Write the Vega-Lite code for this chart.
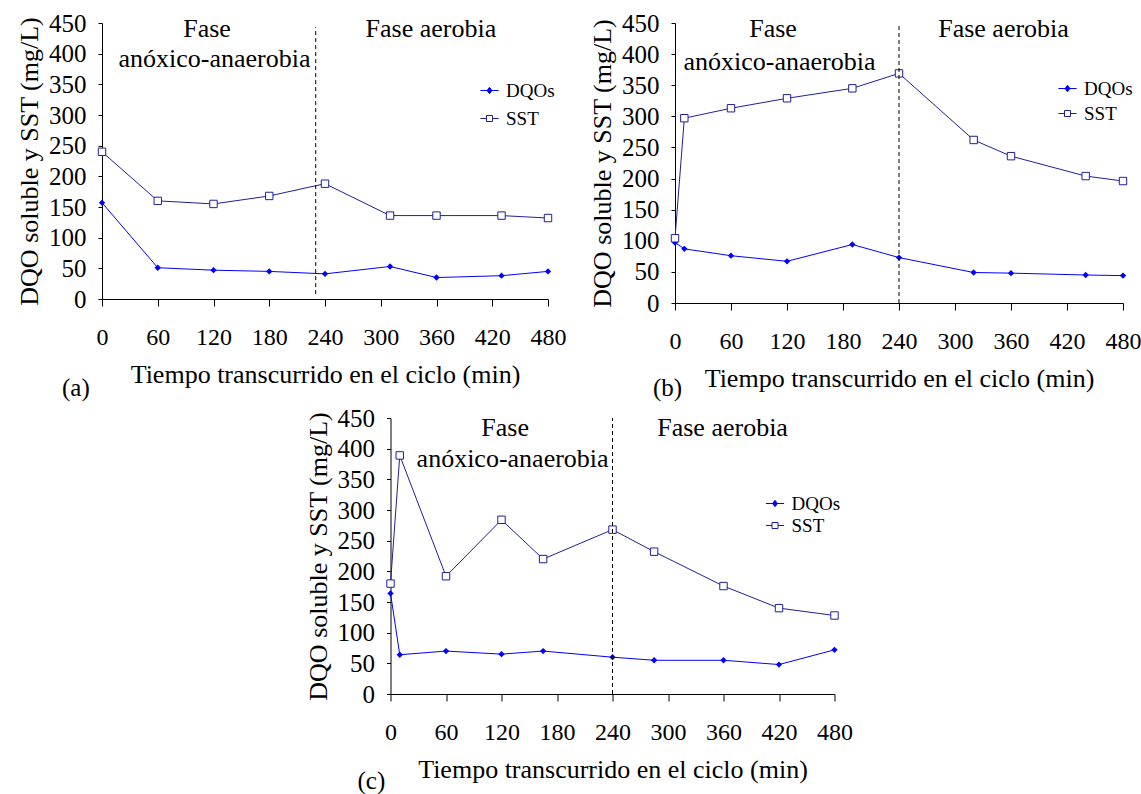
{
  "$schema": "https://vega.github.io/schema/vega-lite/v6.json",
  "padding": {"left": 16, "top": 11, "right": 0, "bottom": 0},
  "background": "white",
  "config": {
    "view": {"stroke": null},
    "font": "Liberation Serif",
    "axis": {"domainColor": "black", "tickColor": "black", "labelColor": "black", "titleColor": "black", "grid": false, "labelFont": "Liberation Serif", "titleFont": "Liberation Serif", "titleFontWeight": "normal", "domainWidth": 1, "tickWidth": 1, "labelOverlap": false},
    "axisX": {"tickSize": 7, "labelFontSize": 24, "labelPadding": 19, "titleFontSize": 26, "titlePadding": 12, "labelFlush": false, "labelOverlap": false},
    "axisY": {"tickSize": 4, "labelFontSize": 25, "labelPadding": 12, "titleFontSize": 26, "titlePadding": 6, "labelOverlap": false},
    "legend": {"labelFont": "Liberation Serif", "labelFontSize": 19, "labelColor": "black", "symbolSize": 196, "symbolStrokeWidth": 1, "labelOffset": 7, "title": null},
    "title": {"font": "Liberation Serif", "fontSize": 25, "fontWeight": "normal", "color": "black"},
    "text": {"font": "Liberation Serif", "fontSize": 26, "color": "black"}
  },
  "datasets": {
    "a": [
      {"t": 0, "v": 157, "serie": "DQOs"}, {"t": 60, "v": 51, "serie": "DQOs"}, {"t": 120, "v": 47, "serie": "DQOs"}, {"t": 180, "v": 45, "serie": "DQOs"}, {"t": 240, "v": 41, "serie": "DQOs"}, {"t": 310, "v": 53, "serie": "DQOs"}, {"t": 360, "v": 35, "serie": "DQOs"}, {"t": 430, "v": 38, "serie": "DQOs"}, {"t": 480, "v": 45, "serie": "DQOs"},
      {"t": 0, "v": 240, "serie": "SST"}, {"t": 60, "v": 160, "serie": "SST"}, {"t": 120, "v": 155, "serie": "SST"}, {"t": 180, "v": 168, "serie": "SST"}, {"t": 240, "v": 188, "serie": "SST"}, {"t": 310, "v": 136, "serie": "SST"}, {"t": 360, "v": 136, "serie": "SST"}, {"t": 430, "v": 136, "serie": "SST"}, {"t": 480, "v": 132, "serie": "SST"}
    ],
    "b": [
      {"t": 0, "v": 97, "serie": "DQOs"}, {"t": 10, "v": 87, "serie": "DQOs"}, {"t": 60, "v": 76, "serie": "DQOs"}, {"t": 120, "v": 67, "serie": "DQOs"}, {"t": 190, "v": 94, "serie": "DQOs"}, {"t": 240, "v": 73, "serie": "DQOs"}, {"t": 320, "v": 49, "serie": "DQOs"}, {"t": 360, "v": 48, "serie": "DQOs"}, {"t": 440, "v": 45, "serie": "DQOs"}, {"t": 480, "v": 44, "serie": "DQOs"},
      {"t": 0, "v": 104, "serie": "SST"}, {"t": 10, "v": 297, "serie": "SST"}, {"t": 60, "v": 313, "serie": "SST"}, {"t": 120, "v": 329, "serie": "SST"}, {"t": 190, "v": 345, "serie": "SST"}, {"t": 240, "v": 369, "serie": "SST"}, {"t": 320, "v": 262, "serie": "SST"}, {"t": 360, "v": 236, "serie": "SST"}, {"t": 440, "v": 204, "serie": "SST"}, {"t": 480, "v": 196, "serie": "SST"}
    ],
    "c": [
      {"t": 0, "v": 164, "serie": "DQOs"}, {"t": 10, "v": 64, "serie": "DQOs"}, {"t": 60, "v": 70, "serie": "DQOs"}, {"t": 120, "v": 65, "serie": "DQOs"}, {"t": 165, "v": 70, "serie": "DQOs"}, {"t": 240, "v": 60, "serie": "DQOs"}, {"t": 285, "v": 55, "serie": "DQOs"}, {"t": 360, "v": 55, "serie": "DQOs"}, {"t": 420, "v": 48, "serie": "DQOs"}, {"t": 480, "v": 72, "serie": "DQOs"},
      {"t": 0, "v": 180, "serie": "SST"}, {"t": 10, "v": 389, "serie": "SST"}, {"t": 60, "v": 192, "serie": "SST"}, {"t": 120, "v": 284, "serie": "SST"}, {"t": 165, "v": 220, "serie": "SST"}, {"t": 240, "v": 268, "serie": "SST"}, {"t": 285, "v": 232, "serie": "SST"}, {"t": 360, "v": 176, "serie": "SST"}, {"t": 420, "v": 140, "serie": "SST"}, {"t": 480, "v": 128, "serie": "SST"}
    ],
    "a_rule": [{"t": 230, "lo": 8, "hi": 443}],
    "b_rule": [{"t": 240, "lo": 0, "hi": 445}],
    "c_rule": [{"t": 240, "lo": 0, "hi": 450}],
    "a_txt": [{"t": 113, "v": 427, "label": "Fase"}, {"t": 121, "v": 378, "label": "anóxico-anaerobia"}, {"t": 354, "v": 427, "label": "Fase aerobia"}],
    "b_txt": [{"t": 105, "v": 427, "label": "Fase"}, {"t": 112, "v": 374, "label": "anóxico-anaerobia"}, {"t": 352, "v": 427, "label": "Fase aerobia"}],
    "c_txt": [{"t": 124, "v": 420, "label": "Fase"}, {"t": 132, "v": 370, "label": "anóxico-anaerobia"}, {"t": 359, "v": 420, "label": "Fase aerobia"}]
  },
  "vconcat": [
    {
      "hconcat": [
        {
          "width": 446, "height": 276,
          "title": {"text": "(a)", "orient": "bottom", "anchor": "start", "frame": "group", "dx": -40, "offset": -11},
          "layer": [
            {"data": {"name": "a"}, "mark": {"type": "line", "strokeWidth": 1},
             "encoding": {
               "x": {"field": "t", "type": "quantitative", "scale": {"domain": [0, 480], "nice": false}, "axis": {"values": [0, 60, 120, 180, 240, 300, 360, 420, 480], "title": "Tiempo transcurrido en el ciclo (min)", "labelOverlap": false}},
               "y": {"field": "v", "type": "quantitative", "scale": {"domain": [0, 450], "nice": false}, "axis": {"values": [0, 50, 100, 150, 200, 250, 300, 350, 400, 450], "tickCount": 10, "labelOverlap": false, "labelSeparation": 0, "labelBound": false, "title": "DQO soluble y SST (mg/L)"}},
               "color": {"field": "serie", "type": "nominal", "scale": {"domain": ["DQOs", "SST"], "range": ["#0000FF", "#1F1F9A"]},
                 "legend": {"orient": "none", "legendX": 378, "legendY": 58, "rowPadding": 8,
                   "encode": {"symbols": {"update": {
                     "shape": {"signal": "datum.value == 'DQOs' ? 'M-1.3,0H1.3M0,-0.45L0.35,0L0,0.45L-0.35,0Z' : 'M-1.3,0H-0.43M0.43,0H1.3M-0.43,-0.43H0.43V0.43H-0.43Z'"},
                     "fill": {"signal": "datum.value == 'DQOs' ? '#0000FF' : 'white'"},
                     "stroke": {"signal": "datum.value == 'DQOs' ? '#0000FF' : '#1F1F9A'"},
                     "strokeWidth": {"value": 1}, "opacity": {"value": 1}}}}}}
             }},
            {"data": {"name": "a"}, "transform": [{"filter": "datum.serie == 'DQOs'"}], "mark": {"type": "point", "shape": "diamond", "filled": true, "color": "#0000FF", "opacity": 1, "size": 40},
             "encoding": {"x": {"field": "t", "type": "quantitative"}, "y": {"field": "v", "type": "quantitative"}}},
            {"data": {"name": "a"}, "transform": [{"filter": "datum.serie == 'SST'"}], "mark": {"type": "point", "shape": "square", "filled": false, "stroke": "#1F1F9A", "fill": "white", "opacity": 1, "strokeWidth": 1, "size": 55},
             "encoding": {"x": {"field": "t", "type": "quantitative"}, "y": {"field": "v", "type": "quantitative"}}},
            {"data": {"name": "a_rule"}, "mark": {"type": "rule", "color": "black", "strokeDash": [4, 3], "strokeWidth": 1},
             "encoding": {"x": {"field": "t", "type": "quantitative"}, "y": {"field": "lo", "type": "quantitative"}, "y2": {"field": "hi"}}},
            {"data": {"name": "a_txt"}, "mark": {"type": "text", "baseline": "alphabetic", "align": "center", "font": "Liberation Serif", "fontSize": 26},
             "encoding": {"x": {"field": "t", "type": "quantitative"}, "y": {"field": "v", "type": "quantitative"}, "text": {"field": "label"}}}
          ]
        },
        {
          "width": 448, "height": 280,
          "title": {"text": "(b)", "orient": "bottom", "anchor": "start", "frame": "group", "dx": -22, "offset": -15},
          "layer": [
            {"data": {"name": "b"}, "mark": {"type": "line", "strokeWidth": 1},
             "encoding": {
               "x": {"field": "t", "type": "quantitative", "scale": {"domain": [0, 480], "nice": false}, "axis": {"values": [0, 60, 120, 180, 240, 300, 360, 420, 480], "title": "Tiempo transcurrido en el ciclo (min)", "labelOverlap": false}},
               "y": {"field": "v", "type": "quantitative", "scale": {"domain": [0, 450], "nice": false}, "axis": {"values": [0, 50, 100, 150, 200, 250, 300, 350, 400, 450], "tickCount": 10, "labelOverlap": false, "labelSeparation": 0, "labelBound": false, "title": "DQO soluble y SST (mg/L)"}},
               "color": {"field": "serie", "type": "nominal", "scale": {"domain": ["DQOs", "SST"], "range": ["#0000FF", "#1F1F9A"]},
                 "legend": {"orient": "none", "legendX": 383, "legendY": 56, "rowPadding": 5,
                   "encode": {"symbols": {"update": {
                     "shape": {"signal": "datum.value == 'DQOs' ? 'M-1.3,0H1.3M0,-0.45L0.35,0L0,0.45L-0.35,0Z' : 'M-1.3,0H-0.43M0.43,0H1.3M-0.43,-0.43H0.43V0.43H-0.43Z'"},
                     "fill": {"signal": "datum.value == 'DQOs' ? '#0000FF' : 'white'"},
                     "stroke": {"signal": "datum.value == 'DQOs' ? '#0000FF' : '#1F1F9A'"},
                     "strokeWidth": {"value": 1}, "opacity": {"value": 1}}}}}}
             }},
            {"data": {"name": "b"}, "transform": [{"filter": "datum.serie == 'DQOs'"}], "mark": {"type": "point", "shape": "diamond", "filled": true, "color": "#0000FF", "opacity": 1, "size": 40},
             "encoding": {"x": {"field": "t", "type": "quantitative"}, "y": {"field": "v", "type": "quantitative"}}},
            {"data": {"name": "b"}, "transform": [{"filter": "datum.serie == 'SST'"}], "mark": {"type": "point", "shape": "square", "filled": false, "stroke": "#1F1F9A", "fill": "white", "opacity": 1, "strokeWidth": 1, "size": 55},
             "encoding": {"x": {"field": "t", "type": "quantitative"}, "y": {"field": "v", "type": "quantitative"}}},
            {"data": {"name": "b_rule"}, "mark": {"type": "rule", "color": "black", "strokeDash": [4, 3], "strokeWidth": 1},
             "encoding": {"x": {"field": "t", "type": "quantitative"}, "y": {"field": "lo", "type": "quantitative"}, "y2": {"field": "hi"}}},
            {"data": {"name": "b_txt"}, "mark": {"type": "text", "baseline": "alphabetic", "align": "center", "font": "Liberation Serif", "fontSize": 26},
             "encoding": {"x": {"field": "t", "type": "quantitative"}, "y": {"field": "v", "type": "quantitative"}, "text": {"field": "label"}}}
          ]
        }
      ],
      "spacing": 23,
      "resolve": {"scale": {"color": "independent"}, "legend": {"color": "independent"}}
    },
    {
      "width": 444, "height": 276,
      "title": {"text": "(c)", "orient": "bottom", "anchor": "start", "frame": "group", "dx": -33, "offset": -13},
      "layer": [
        {"data": {"name": "c"}, "mark": {"type": "line", "strokeWidth": 1},
         "encoding": {
           "x": {"field": "t", "type": "quantitative", "scale": {"domain": [0, 480], "nice": false}, "axis": {"values": [0, 60, 120, 180, 240, 300, 360, 420, 480], "title": "Tiempo transcurrido en el ciclo (min)", "labelOverlap": false}},
           "y": {"field": "v", "type": "quantitative", "scale": {"domain": [0, 450], "nice": false}, "axis": {"values": [0, 50, 100, 150, 200, 250, 300, 350, 400, 450], "tickCount": 10, "labelOverlap": false, "labelSeparation": 0, "labelBound": false, "title": "DQO soluble y SST (mg/L)"}},
           "color": {"field": "serie", "type": "nominal", "scale": {"domain": ["DQOs", "SST"], "range": ["#0000FF", "#1F1F9A"]},
             "legend": {"orient": "none", "legendX": 375, "legendY": 76, "rowPadding": 2,
               "encode": {"symbols": {"update": {
                 "shape": {"signal": "datum.value == 'DQOs' ? 'M-1.3,0H1.3M0,-0.45L0.35,0L0,0.45L-0.35,0Z' : 'M-1.3,0H-0.43M0.43,0H1.3M-0.43,-0.43H0.43V0.43H-0.43Z'"},
                 "fill": {"signal": "datum.value == 'DQOs' ? '#0000FF' : 'white'"},
                 "stroke": {"signal": "datum.value == 'DQOs' ? '#0000FF' : '#1F1F9A'"},
                 "strokeWidth": {"value": 1}, "opacity": {"value": 1}}}}}}
         }},
        {"data": {"name": "c"}, "transform": [{"filter": "datum.serie == 'DQOs'"}], "mark": {"type": "point", "shape": "diamond", "filled": true, "color": "#0000FF", "opacity": 1, "size": 40},
         "encoding": {"x": {"field": "t", "type": "quantitative"}, "y": {"field": "v", "type": "quantitative"}}},
        {"data": {"name": "c"}, "transform": [{"filter": "datum.serie == 'SST'"}], "mark": {"type": "point", "shape": "square", "filled": false, "stroke": "#1F1F9A", "fill": "white", "opacity": 1, "strokeWidth": 1, "size": 55},
         "encoding": {"x": {"field": "t", "type": "quantitative"}, "y": {"field": "v", "type": "quantitative"}}},
        {"data": {"name": "c_rule"}, "mark": {"type": "rule", "color": "black", "strokeDash": [4, 3], "strokeWidth": 1},
         "encoding": {"x": {"field": "t", "type": "quantitative"}, "y": {"field": "lo", "type": "quantitative"}, "y2": {"field": "hi"}}},
        {"data": {"name": "c_txt"}, "mark": {"type": "text", "baseline": "alphabetic", "align": "center", "font": "Liberation Serif", "fontSize": 26},
         "encoding": {"x": {"field": "t", "type": "quantitative"}, "y": {"field": "v", "type": "quantitative"}, "text": {"field": "label"}}}
      ]
    }
  ],
  "spacing": 5,
  "center": true,
  "resolve": {"scale": {"color": "independent"}, "legend": {"color": "independent"}}
}
